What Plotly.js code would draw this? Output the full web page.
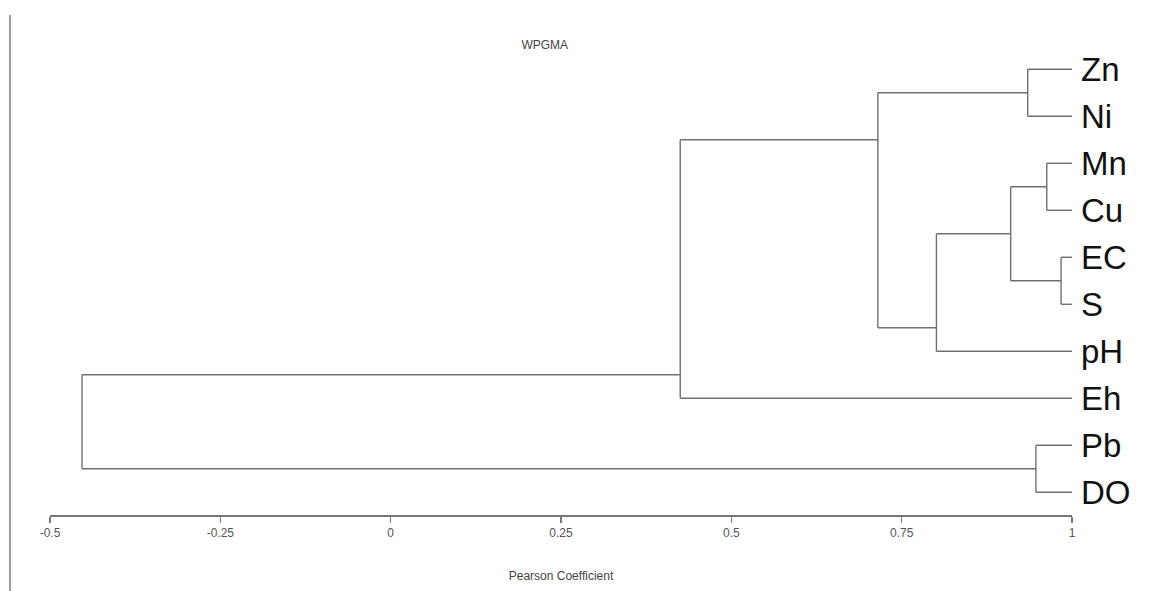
<!DOCTYPE html>
<html>
<head>
<meta charset="utf-8">
<script src="https://cdn.plot.ly/plotly-3.0.1.min.js"></script>
<style>
  html, body { margin: 0; padding: 0; background: #ffffff; }
  #wrap { position: relative; width: 1159px; height: 591px; }
  #chart { position: absolute; left: 0; top: 0; width: 1159px; height: 591px; }
  #frame { position: absolute; left: 9px; top: 15px; width: 0; height: 576px; border-left: 2px solid #a0a0a0; }
</style>
</head>
<body>
<div id="wrap">
  <div id="chart"></div>
  <div id="frame"></div>
</div>
<script>
// Leaves in display order (top to bottom)
const leaves = ['Zn', 'Ni', 'Mn', 'Cu', 'EC', 'S', 'pH', 'Eh', 'Pb', 'DO'];
// Merges (cluster ids: leaves 0..9, merges 10..18 in this order)
const mergeLeft  = [4, 2, 8, 0, 11, 14, 13, 16, 17];
const mergeRight = [5, 3, 9, 1, 10, 6, 15, 7, 12];
const mergeSim   = [0.984, 0.963, 0.947, 0.935, 0.910, 0.801, 0.715, 0.425, -0.453];
// Axis ticks
const tickVals = [-0.5, -0.25, 0, 0.25, 0.5, 0.75, 1];
const tickText = ['-0.5', '-0.25', '0', '0.25', '0.5', '0.75', '1'];

const n = leaves.length;
const xPos = [], yPos = [], lo = [], hi = [];
for (let i = 0; i < n; i++) { xPos.push(1); yPos.push(i); lo.push(i); hi.push(i); }
const lx = [], ly = [];
mergeSim.forEach((s, k) => {
  const a = mergeLeft[k], b = mergeRight[k];
  const y = (hi[a] + lo[b]) / 2;
  // vertical connector
  lx.push(s, s, null); ly.push(yPos[a], yPos[b], null);
  // horizontal branches
  lx.push(s, xPos[a], null); ly.push(yPos[a], yPos[a], null);
  lx.push(s, xPos[b], null); ly.push(yPos[b], yPos[b], null);
  xPos.push(s); yPos.push(y);
  lo.push(Math.min(lo[a], lo[b])); hi.push(Math.max(hi[a], hi[b]));
});

const trace = {
  type: 'scatter', mode: 'lines', x: lx, y: ly,
  line: { color: '#707070', width: 1.4 },
  hoverinfo: 'skip', showlegend: false
};

const layout = {
  width: 1159, height: 591,
  margin: { l: 50, r: 87, t: 40, b: 76 },
  paper_bgcolor: '#ffffff', plot_bgcolor: '#ffffff',
  font: { family: 'Liberation Sans, Arial, sans-serif', color: '#444' },
  title: {
    text: 'WPGMA', font: { size: 12, color: '#444' },
    xref: 'container', yref: 'container', x: 0.47, y: 1 - 45 / 591,
    xanchor: 'center', yanchor: 'middle'
  },
  xaxis: {
    range: [-0.5, 1], showgrid: false, zeroline: false,
    showline: true, linecolor: '#777', linewidth: 1.5,
    ticks: 'outside', ticklen: 6, tickwidth: 1.5, tickcolor: '#777',
    tickmode: 'array', tickvals: tickVals, ticktext: tickText,
    tickfont: { size: 12, color: '#555' },
    title: { text: 'Pearson Coefficient', font: { size: 12, color: '#444' }, standoff: 32 },
    automargin: false, fixedrange: true
  },
  yaxis: {
    range: [9.483, -0.623], showgrid: false, zeroline: false, showline: false,
    side: 'right', ticks: '',
    tickmode: 'array', tickvals: leaves.map((_, i) => i), ticktext: leaves,
    tickfont: { size: 33, color: '#111', family: 'Liberation Sans, Arial, sans-serif' },
    ticklabelstandoff: 8,
    automargin: false, fixedrange: true
  }
};

Plotly.newPlot('chart', [trace], layout, { displayModeBar: false, staticPlot: true });
</script>
</body>
</html>
